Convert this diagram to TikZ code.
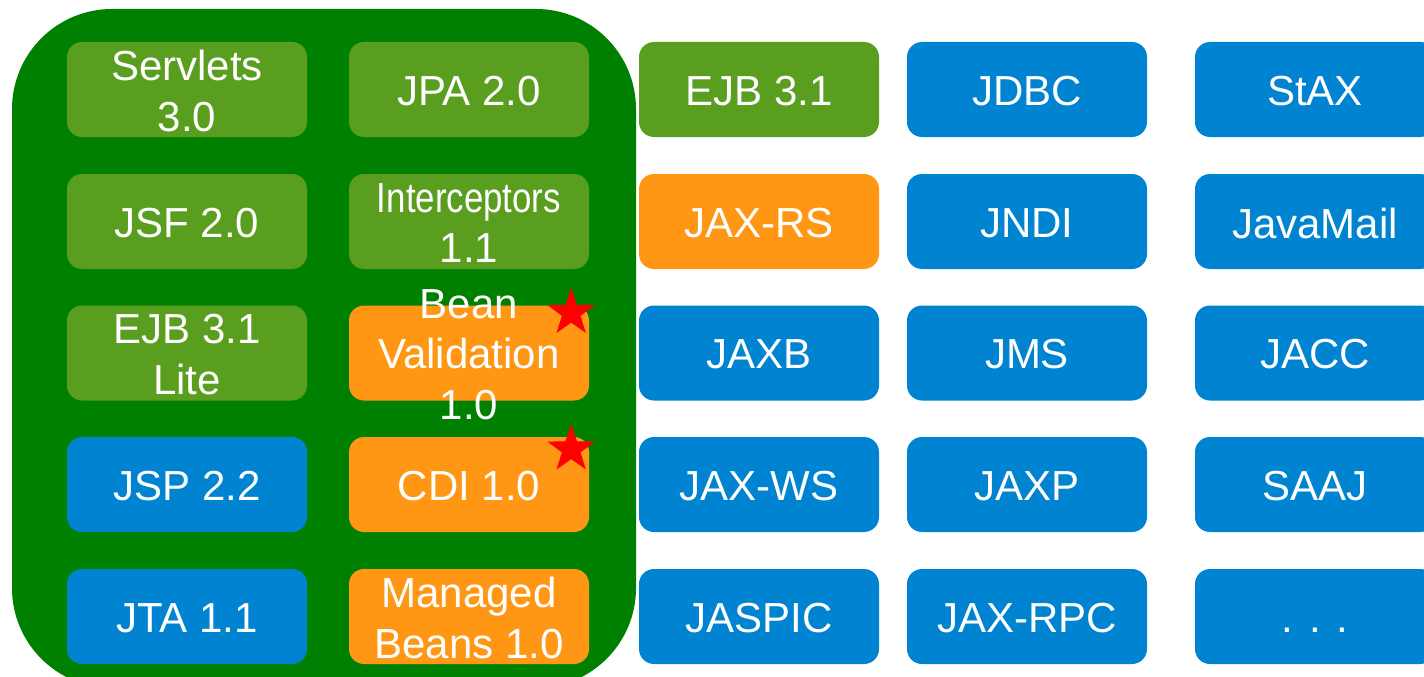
\documentclass[tikz,border=0pt]{standalone}
\usepackage{fontspec}
\setmainfont{Liberation Sans}
\usepackage{tikz}
\usetikzlibrary{shapes.geometric}
\definecolor{webgreen}{HTML}{008000}
\definecolor{specgreen}{HTML}{5A9E1F}
\definecolor{specblue}{HTML}{0084D1}
\definecolor{specorange}{HTML}{FF9614}
\tikzset{
	specbox/.style={minimum width=240pt, minimum height=95pt, inner sep=0pt, rounded corners=15pt},
	spectext/.style={text=white, align=center, inner sep=0pt, yshift=-1.5pt, font=\fontsize{42}{50.5}\selectfont},
	newstar/.style={star, star points=5, star point ratio=2.55, fill=red, inner sep=0pt, minimum size=50pt}
}
\newcommand{\spec}[5] % name, x in px, y in px, colour, label
{
	% box
	\node[specbox, fill=#4] (#1) at (#2,#3) {};
	% label on top, may run over the box
	\node[spectext] (#1-txt) at (#1) {#5};
}

\begin{document}
\begin{tikzpicture}[x=1pt, y=-1pt]
	% 1424 x 677 px, y runs downwards
	\clip (0,0) rectangle (1424,677);
	\fill[white] (0,0) rectangle (1424,677);
	% web profile
	\fill[webgreen, rounded corners=100pt] (12,9) rectangle (636,688);
	% web profile - left column
	\spec{servlets}{187}{89.5}{specgreen}{Servlets\\3.0};
	\spec{jsf}{187}{221.5}{specgreen}{JSF 2.0};
	\spec{ejblite}{187}{353}{specgreen}{EJB 3.1\\Lite};
	\spec{jsp}{187}{484.5}{specblue}{JSP 2.2};
	\spec{jta}{187}{616.5}{specblue}{JTA 1.1};
	% web profile - right column
	\spec{jpa}{469}{89.5}{specgreen}{JPA 2.0};
	\spec{interceptors}{469}{221.5}{specgreen}{\scalebox{0.83}[1]{Interceptors}\\1.1};
	\spec{beanval}{469}{353}{specorange}{Bean\\Validation\\1.0};
	\spec{cdi}{469}{484.5}{specorange}{CDI 1.0};
	\spec{managed}{469}{616.5}{specorange}{Managed\\Beans 1.0};
	% new in this release
	\node[newstar] (beanvalstar) at ([shift={(-18,7.5)}]beanval.north east) {};
	\node[newstar] (cdistar) at ([shift={(-18,12.5)}]cdi.north east) {};
	% full platform
	\spec{ejb}{759}{89.5}{specgreen}{EJB 3.1};
	\spec{jaxrs}{759}{221.5}{specorange}{JAX-RS};
	\spec{jaxb}{759}{353}{specblue}{JAXB};
	\spec{jaxws}{759}{484.5}{specblue}{JAX-WS};
	\spec{jaspic}{759}{616.5}{specblue}{JASPIC};
	\spec{jdbc}{1027}{89.5}{specblue}{JDBC};
	\spec{jndi}{1027}{221.5}{specblue}{JNDI};
	\spec{jms}{1027}{353}{specblue}{JMS};
	\spec{jaxp}{1027}{484.5}{specblue}{JAXP};
	\spec{jaxrpc}{1027}{616.5}{specblue}{JAX-RPC};
	\spec{stax}{1315}{89.5}{specblue}{StAX};
	\spec{javamail}{1315}{221.5}{specblue}{JavaMail};
	\spec{jacc}{1315}{353}{specblue}{JACC};
	\spec{saaj}{1315}{484.5}{specblue}{SAAJ};
	\spec{more}{1315}{616.5}{specblue}{\vphantom{0}. . .};
\end{tikzpicture}
\end{document}
